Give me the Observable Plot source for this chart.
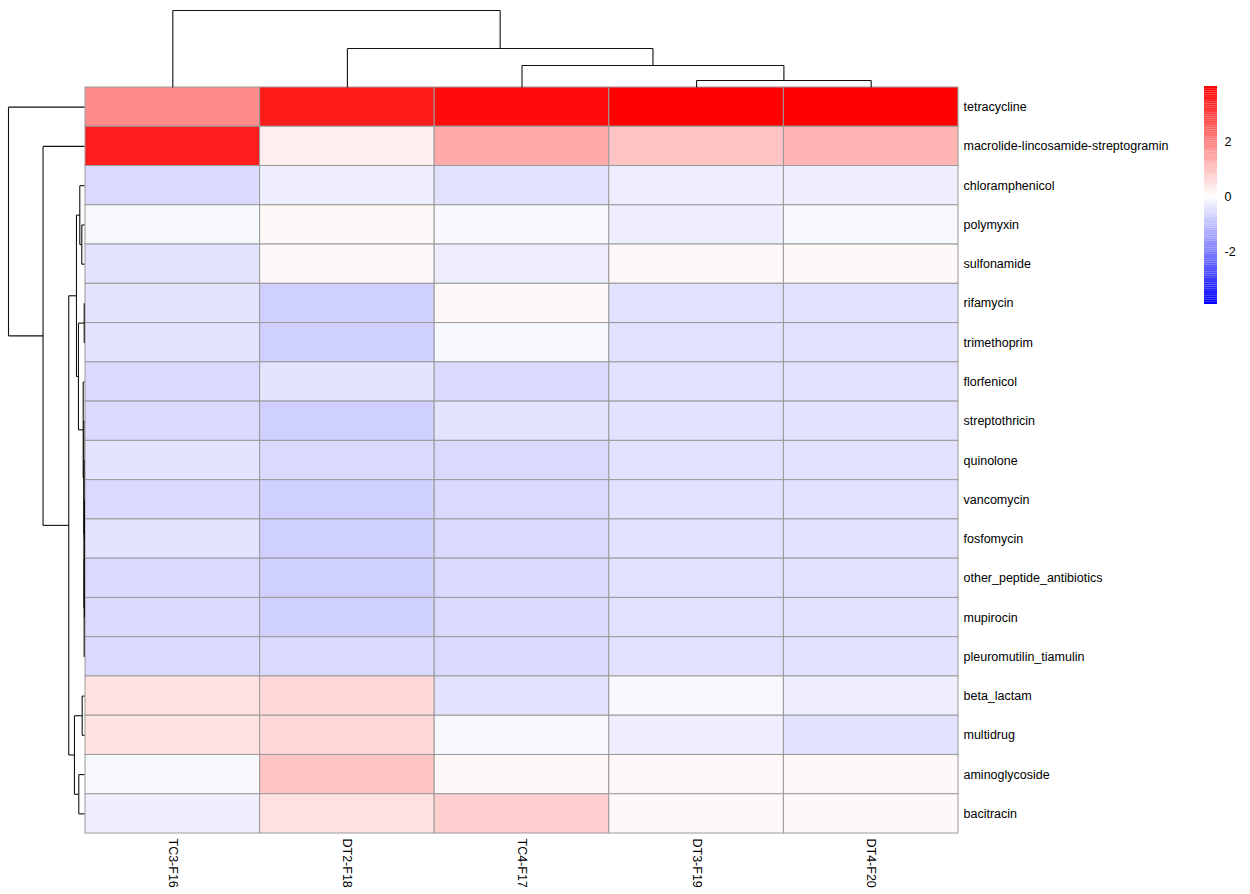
<!DOCTYPE html>
<html><head><meta charset="utf-8">
<script src="https://cdn.jsdelivr.net/npm/d3@7"></script>
<script src="https://cdn.jsdelivr.net/npm/@observablehq/plot@0.6"></script>
<style>
body{margin:0;background:#fff;}
#wrap{position:relative;width:1250px;height:894px;}
</style></head><body><div id="wrap"></div>
<script>
// ---- data ----
const samples = ["TC3-F16","DT2-F18","TC4-F17","DT3-F19","DT4-F20"];
const genes = ["tetracycline","macrolide-lincosamide-streptogramin","chloramphenicol","polymyxin","sulfonamide",
  "rifamycin","trimethoprim","florfenicol","streptothricin","quinolone","vancomycin","fosfomycin",
  "other_peptide_antibiotics","mupirocin","pleuromutilin_tiamulin","beta_lactam","multidrug","aminoglycoside","bacitracin"];
const valTC3 = [1.80,3.55,-0.57,-0.11,-0.41,-0.41,-0.41,-0.57,-0.57,-0.41,-0.57,-0.41,-0.57,-0.57,-0.57,0.45,0.45,-0.11,-0.26];
const valDT2 = [3.60,0.27,-0.26,0.11,0.11,-0.72,-0.72,-0.41,-0.72,-0.57,-0.72,-0.72,-0.72,-0.72,-0.57,0.61,0.61,0.93,0.45];
const valTC4 = [3.85,1.33,-0.44,-0.11,-0.26,0.11,-0.11,-0.57,-0.41,-0.57,-0.57,-0.57,-0.57,-0.57,-0.57,-0.44,-0.11,0.11,0.77];
const valDT3 = [4.00,0.94,-0.26,-0.26,0.11,-0.44,-0.44,-0.44,-0.44,-0.44,-0.44,-0.44,-0.44,-0.44,-0.44,-0.11,-0.26,0.11,0.11];
const valDT4 = [3.98,1.20,-0.26,-0.11,0.11,-0.44,-0.44,-0.44,-0.44,-0.44,-0.44,-0.44,-0.44,-0.44,-0.44,-0.26,-0.44,0.11,0.11];
const legendTicks = [-2, 0, 2];
const colorDomain = [-3.9, 0, 4.0];
const colorRange = ["blue", "white", "red"];

// column clustering (merge pairs, "#k" = k-th merge) and merge heights
const colMerge = [["DT3-F19","DT4-F20"],["TC4-F17","#0"],["DT2-F18","#1"],["TC3-F16","#2"]];
const colHeight = [7, 22, 39, 77];
// row clustering
const rowMerge = [
  ["rifamycin","trimethoprim"],
  ["vancomycin","fosfomycin"],
  ["other_peptide_antibiotics","mupirocin"],
  ["#1","#2"],
  ["#3","pleuromutilin_tiamulin"],
  ["quinolone","#4"],
  ["streptothricin","#5"],
  ["florfenicol","#6"],
  ["#0","#7"],
  ["polymyxin","sulfonamide"],
  ["chloramphenicol","#9"],
  ["#10","#8"],
  ["beta_lactam","multidrug"],
  ["aminoglycoside","bacitracin"],
  ["#12","#13"],
  ["#11","#14"],
  ["macrolide-lincosamide-streptogramin","#15"],
  ["tetracycline","#16"]
];
const rowHeight = [0.3,0.05,0.05,0.15,0.35,0.5,0.7,1.3,6,2.7,4.7,8,2.3,5.7,10,15.7,41.3,75.7];

// ---- build ----
const color = d3.scaleLinear().domain(colorDomain).range(colorRange).interpolate(d3.interpolateRgb).clamp(true);
const cols = [valTC3, valDT2, valTC4, valDT3, valDT4];
const cells = [];
genes.forEach((g, i) => samples.forEach((s, j) => cells.push({gene: g, sample: s, value: cols[j][i]})));

function dendroSegments(leaves, merges, heights) {
  const pos = new Map(leaves.map((l, i) => [l, {p: i + 0.5, h: 0}]));
  const nodes = [];
  const get = (k) => k.startsWith("#") ? nodes[+k.slice(1)] : pos.get(k);
  const segs = [];
  merges.forEach(([a, b], k) => {
    const A = get(a), B = get(b), H = heights[k];
    segs.push({p1: A.p, h1: A.h, p2: A.p, h2: H});
    segs.push({p1: A.p, h1: H, p2: B.p, h2: H});
    segs.push({p1: B.p, h1: B.h, p2: B.p, h2: H});
    nodes.push({p: (A.p + B.p) / 2, h: H});
  });
  return segs;
}

const W = 1250, H = 894;
const mL = 85, mR = W - 958, mT = 87, mB = H - 833;
const FS = 12.5;
const baseStyle = {position: "absolute", left: "0px", top: "0px", background: "transparent",
  fontFamily: "'Liberation Sans', Arial, sans-serif", fontSize: FS + "px", color: "#000", overflow: "visible"};
const wrap = document.getElementById("wrap");

// heatmap
const heat = Plot.plot({
  width: W, height: H, marginLeft: mL, marginRight: mR, marginTop: mT, marginBottom: mB,
  style: baseStyle,
  x: {type: "band", domain: samples, padding: 0, round: false},
  y: {type: "band", domain: genes, padding: 0, round: false},
  color: {type: "identity"},
  marks: [
    Plot.cell(cells, {x: "sample", y: "gene", fill: d => color(d.value), stroke: "#9a9a9a", strokeWidth: 1, inset: 0}),
    Plot.axisY({anchor: "right", tickSize: 0, tickPadding: 5, label: null, fontSize: FS}),
    Plot.axisX({anchor: "bottom", tickSize: 0, tickPadding: 5, tickRotate: 90, label: null, fontSize: FS})
  ]
});
wrap.appendChild(heat);

// column dendrogram
const colSegs = dendroSegments(samples, colMerge, colHeight);
const colDen = Plot.plot({
  width: W, height: mT, marginLeft: mL, marginRight: mR, marginTop: 10, marginBottom: 0,
  style: baseStyle,
  x: {domain: [0, samples.length], axis: null},
  y: {domain: [0, d3.max(colHeight)], axis: null},
  marks: [Plot.link(colSegs, {x1: "p1", y1: "h1", x2: "p2", y2: "h2", stroke: "#111", strokeWidth: 1.1})]
});
wrap.appendChild(colDen);

// row dendrogram
const rowSegs = dendroSegments(genes, rowMerge, rowHeight);
const rowDen = Plot.plot({
  width: mL, height: H, marginLeft: 8, marginRight: 1, marginTop: mT, marginBottom: mB,
  style: baseStyle,
  x: {domain: [d3.max(rowHeight), 0], axis: null},
  y: {domain: [genes.length, 0], axis: null},
  marks: [Plot.link(rowSegs, {x1: "h1", y1: "p1", x2: "h2", y2: "p2", stroke: "#111", strokeWidth: 1.1})]
});
wrap.appendChild(rowDen);

// legend
const nBins = 100;
const lo = colorDomain[0], hi = colorDomain[colorDomain.length - 1];
const bins = d3.range(nBins).map(i => ({y1: lo + (hi - lo) * i / nBins, y2: lo + (hi - lo) * (i + 1) / nBins}));
const leg = Plot.plot({
  width: W, height: H, marginLeft: 1204, marginRight: W - 1217, marginTop: 86, marginBottom: H - 304,
  style: baseStyle,
  x: {domain: [0, 1], axis: null},
  y: {domain: [lo, hi]},
  color: {type: "identity"},
  marks: [
    Plot.rect(bins, {x1: 0, x2: 1, y1: "y1", y2: "y2", fill: d => color((d.y1 + d.y2) / 2)}),
    Plot.axisY(legendTicks, {anchor: "right", tickSize: 0, tickPadding: 7, label: null, fontSize: FS,
      tickFormat: d => String(d)})
  ]
});
wrap.appendChild(leg);
</script></body></html>
